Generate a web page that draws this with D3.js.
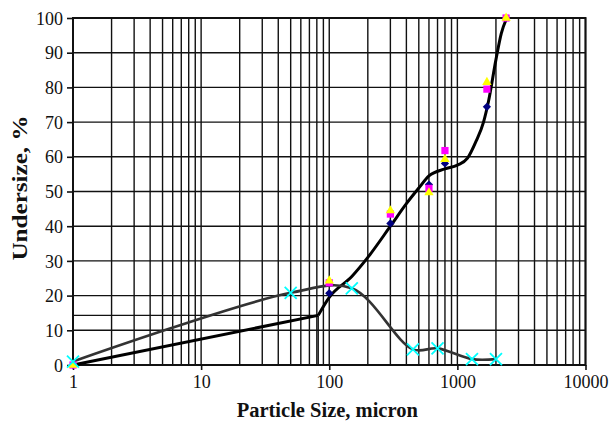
<!DOCTYPE html>
<html>
<head>
<meta charset="utf-8">
<script src="https://cdn.jsdelivr.net/npm/d3@7"></script>
<style>
  body { margin: 0; background: #fff; }
  svg { display: block; }
  .tick text { font-family: "Liberation Serif", "Times New Roman", serif; font-size: 18px; fill: #111; }
  .title { font-family: "Liberation Serif", "Times New Roman", serif; font-size: 20.5px; font-weight: bold; fill: #111; }
</style>
</head>
<body>
<div id="chart"></div>
<script>
// Sieve sizes (micron) shared by the three marker series
const markerSizes = [1, 100, 300, 600, 800, 1700, 2400];
const diamondVals = [0, 20.7, 40.8, 52.0, 58.1, 74.4, 100];
const squareVals = [0, 23.7, 43.5, 50.9, 61.8, 79.5, 100];
const triangleVals = [0, 24.3, 44.5, 49.7, 59.3, 81.5, 100];

// Cyan X series with its smoothed grey line
const crossSizes = [1, 50, 150, 450, 700, 1300, 2000];
const crossVals = [1, 20.8, 22.1, 4.5, 4.8, 1.7, 1.7];

// Black fitted curve: straight part up to the break point, then smooth
const breakSize = 82;
const breakVal = 14.3;
const fitSizes = [82, 100, 150, 200, 300, 400, 500, 600, 800, 1000, 1200, 1400, 1600, 1750, 2000, 2200, 2430];
const fitVals = [14.3, 19.5, 25.5, 31, 40, 46.5, 51, 54.5, 56.5, 57.6, 59.6, 64.5, 70, 76, 88, 95.5, 100];

const xTicks = [1, 10, 100, 1000, 10000];
const yTicks = [0, 10, 20, 30, 40, 50, 60, 70, 80, 90, 100];

const W = 613, H = 424;
const margin = { top: 18, right: 27.5, bottom: 59, left: 73 };

const svg = d3.select("#chart").append("svg")
    .attr("width", W)
    .attr("height", H);

const x = d3.scaleLog().domain([1, 10000]).range([margin.left, W - margin.right]);
const y = d3.scaleLinear().domain([0, 100]).range([H - margin.bottom, margin.top]);

// minor grid positions: 1..9 in every decade
const gridX = [];
xTicks.slice(0, -1).forEach(d => { for (let k = 1; k < 10; k++) gridX.push(d * k); });
gridX.push(10000);

const grid = svg.append("g").attr("stroke", "#111").attr("stroke-width", 1.4);
grid.selectAll("line.v").data(gridX).join("line")
    .attr("class", "v")
    .attr("x1", d => x(d)).attr("x2", d => x(d))
    .attr("y1", y(0)).attr("y2", y(100));
grid.selectAll("line.h").data(yTicks).join("line")
    .attr("class", "h")
    .attr("x1", x(1)).attr("x2", x(10000))
    .attr("y1", d => y(d)).attr("y2", d => y(d));

// drop lines from the break point
grid.append("line")
    .attr("x1", x(1)).attr("x2", x(breakSize))
    .attr("y1", y(breakVal)).attr("y2", y(breakVal));
grid.append("line")
    .attr("x1", x(breakSize)).attr("x2", x(breakSize))
    .attr("y1", y(breakVal)).attr("y2", y(0));

// frame
svg.append("rect")
    .attr("x", x(1)).attr("y", y(100))
    .attr("width", x(10000) - x(1)).attr("height", y(0) - y(100))
    .attr("fill", "none").attr("stroke", "#111").attr("stroke-width", 2);

// axes
const xAxis = svg.append("g")
    .attr("transform", `translate(0,${y(0)})`)
    .call(d3.axisBottom(x).tickValues(xTicks).tickFormat(d3.format("d")).tickSize(5).tickPadding(5));
const yAxis = svg.append("g")
    .attr("transform", `translate(${x(1)},0)`)
    .call(d3.axisLeft(y).tickValues(yTicks).tickSize(6).tickPadding(4));
[xAxis, yAxis].forEach(a => {
    a.select(".domain").remove();
    a.selectAll(".tick line").attr("stroke", "#111").attr("stroke-width", 1.6);
});
yAxis.selectAll(".tick text").attr("dy", "0.34em");

// black fitted curve
const fitPts = fitSizes.map((s, i) => [x(s), y(fitVals[i])]);
svg.append("path")
    .attr("d", d3.line()([[x(1), y(0)], [x(breakSize), y(breakVal)]]))
    .attr("fill", "none").attr("stroke", "#000").attr("stroke-width", 3);
svg.append("path")
    .attr("d", d3.line().curve(d3.curveMonotoneX)(fitPts))
    .attr("fill", "none").attr("stroke", "#000").attr("stroke-width", 3);

// grey smoothed line through the crosses
const crossPts = crossSizes.map((s, i) => [x(s), y(crossVals[i])]);
svg.append("path")
    .attr("d", d3.line().curve(d3.curveCatmullRom.alpha(0.5))(crossPts))
    .attr("fill", "none").attr("stroke", "#333").attr("stroke-width", 2.6);

// markers
svg.append("g").selectAll("path").data(markerSizes).join("path")
    .attr("transform", (d, i) => `translate(${x(d)},${y(diamondVals[i])}) rotate(45)`)
    .attr("d", d3.symbol(d3.symbolSquare, 34)())
    .attr("fill", "#000080");
svg.append("g").selectAll("path").data(markerSizes).join("path")
    .attr("transform", (d, i) => `translate(${x(d)},${y(squareVals[i])})`)
    .attr("d", d3.symbol(d3.symbolSquare, 52)())
    .attr("fill", "#ff00ff");
svg.append("g").selectAll("path").data(markerSizes).join("path")
    .attr("transform", (d, i) => `translate(${x(d)},${y(triangleVals[i])})`)
    .attr("d", d3.symbol(d3.symbolTriangle, 38)())
    .attr("fill", "#ffff00");
svg.append("g").selectAll("path").data(crossSizes).join("path")
    .attr("transform", (d, i) => `translate(${x(d)},${y(crossVals[i])})`)
    .attr("d", "M-6,-6L6,6M-6,6L6,-6")
    .attr("stroke", "#00ffff").attr("stroke-width", 1.8).attr("fill", "none");

// axis titles
svg.append("text")
    .attr("class", "title")
    .attr("x", (x(1) + x(10000)) / 2 - 2)
    .attr("y", 417)
    .attr("text-anchor", "middle")
    .text("Particle Size, micron");
svg.append("text")
    .attr("class", "title")
    .attr("transform", `translate(27,188) rotate(-90)`)
    .attr("text-anchor", "middle")
    .attr("textLength", 145)
    .attr("lengthAdjust", "spacingAndGlyphs")
    .text("Undersize, %");
</script>
</body>
</html>
